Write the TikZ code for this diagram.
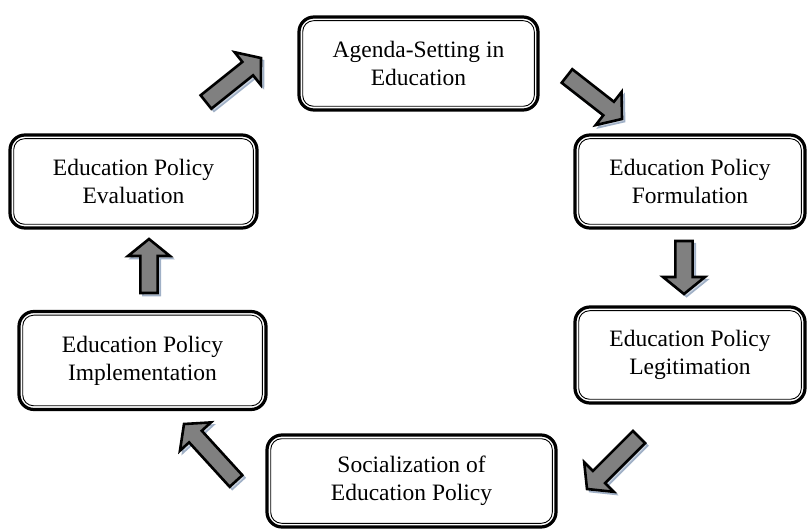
\documentclass[tikz,border=0pt]{standalone}
\usepackage{fontspec}
\setmainfont{Liberation Serif}
\usetikzlibrary{calc}

\definecolor{arrowgray}{RGB}{128,128,128}
\definecolor{shadowblue}{RGB}{160,176,198}

\tikzset{
  stage/.style={draw,line width=3.2pt,rounded corners=15pt,align=center,inner sep=0pt,
    font=\fontsize{23.5}{28}\selectfont,
    path picture={\draw[line width=0.9pt,rounded corners=11pt]
      ([shift={(3.7pt,-3.7pt)}]path picture bounding box.north west) rectangle
      ([shift={(-3.7pt,3.7pt)}]path picture bounding box.south east);}},
  arrowbody/.style={draw=black,fill=arrowgray,line width=2.6pt,line join=miter},
  arrowshadow/.style={draw=shadowblue,fill=shadowblue!55,line width=1.6pt,line join=miter}
}

% block arrow outline from tail #1 to tip #2
\newcommand{\arrowpath}[2]{($(#1)!8.6pt!90:(#2)$) -- ($(#2)!17pt!(#1)!8.6pt!-90:(#1)$)
  -- ($(#2)!17pt!(#1)!21pt!-90:(#1)$) -- (#2) -- ($(#2)!17pt!(#1)!21pt!90:(#1)$)
  -- ($(#2)!17pt!(#1)!8.6pt!90:(#1)$) -- ($(#1)!8.6pt!-90:(#2)$) -- cycle}

\newcommand{\stagearrow}[2]{%
  \coordinate (s1) at ($(#1)+(2.6pt,-2.6pt)$);
  \coordinate (s2) at ($(#2)+(2.6pt,-2.6pt)$);
  \path[arrowshadow] \arrowpath{s1}{s2};
  \path[arrowbody] \arrowpath{#1}{#2};
}

\begin{document}
\begin{tikzpicture}[x=1pt,y=-1pt]
\useasboundingbox (0,0) rectangle (809,529);

% Stages of the cycle
\node[stage,minimum width=239pt,minimum height=93pt] (agenda) at (418.5,63.5) {Agenda-Setting in\\Education};
\node[stage,minimum width=230pt,minimum height=93pt] (formulation) at (690,181.5) {Education Policy\\Formulation};
\node[stage,minimum width=230pt,minimum height=96pt] (legitimation) at (690,355) {Education Policy\\Legitimation};
\node[stage,minimum width=289pt,minimum height=92pt] (socialization) at (411.5,481) {Socialization of\\Education Policy};
\node[stage,minimum width=247pt,minimum height=98pt] (implementation) at (142.5,360.5) {Education Policy\\Implementation};
\node[stage,minimum width=247pt,minimum height=93pt] (evaluation) at (133.5,181.5) {Education Policy\\Evaluation};

% Arrow ends
\coordinate (eval-out) at (206,102);   \coordinate (agenda-in) at (261,58);
\coordinate (agenda-out) at (567,76);  \coordinate (form-in) at (622,119);
\coordinate (form-out) at (684,241);   \coordinate (legit-in) at (684,294);
\coordinate (legit-out) at (639,437);  \coordinate (social-in) at (587,489);
\coordinate (social-out) at (236,481); \coordinate (impl-in) at (184,424);
\coordinate (impl-out) at (149,293);   \coordinate (eval-in) at (149,239);

% Arrows
\stagearrow{eval-out}{agenda-in}
\stagearrow{agenda-out}{form-in}
\stagearrow{form-out}{legit-in}
\stagearrow{legit-out}{social-in}
\stagearrow{social-out}{impl-in}
\stagearrow{impl-out}{eval-in}
\end{tikzpicture}
\end{document}
